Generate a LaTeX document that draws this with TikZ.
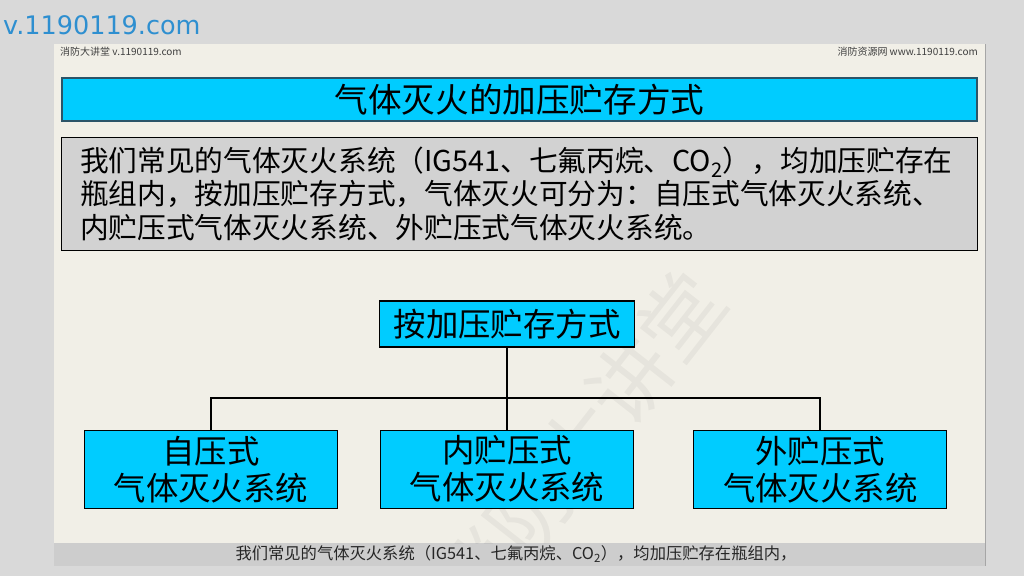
\documentclass[tikz,border=0pt]{standalone}
\usepackage{fontspec}
\setmainfont{Noto Sans CJK SC}
\newfontfamily\urlfont{DejaVu Sans}
\usetikzlibrary{positioning}
\definecolor{cPage}{HTML}{D9D9D9}
\definecolor{cSlide}{HTML}{F1EFE7}
\definecolor{cBar}{HTML}{CDCDCD}
\definecolor{cCyan}{HTML}{00CCFF}
\definecolor{cEdge}{HTML}{2B5468}
\definecolor{cNote}{HTML}{D2D2D2}
\definecolor{cLink}{HTML}{2E8FD0}

\begin{document}
\begin{tikzpicture}[
  x=1pt,y=-1pt,
  box/.style={draw=black,line width=1.2pt,fill=cCyan,inner sep=0pt,align=center,
    font=\fontsize{32.4}{37}\selectfont},
  kid/.style={box,minimum width=253pt,minimum height=78pt},
  link/.style={line width=1.5pt},
  tiny/.style={font=\fontsize{10}{12}\selectfont,text=black!75,inner sep=0pt}
]
\useasboundingbox (0,0) rectangle (1024,576);
\fill[cPage] (0,0) rectangle (1024,576);
\fill[cSlide] (54,44) rectangle (985,543);
\fill[cBar] (54,543) rectangle (985,566);
\draw[black!35] (985,44) -- (985,566);
% faint watermark, kept inside the slide
\begin{scope}
  \clip (54,44) rectangle (985,543);
  \node[rotate=52,opacity=0.045,font=\fontsize{82}{82}\selectfont] (mark) at (580,445) {消防大讲堂};
\end{scope}
\node[anchor=west,inner sep=0pt,text=cLink,font=\urlfont\fontsize{25.5}{28}\selectfont] (site) at (3,25) {v.1190119.com};
\node[tiny,anchor=west] (hl) at (60,52) {消防大讲堂 v.1190119.com};
\node[tiny,anchor=east] (hr) at (978,52) {消防资源网 www.1190119.com};
\node[draw=cEdge,line width=2pt,fill=cCyan,minimum width=915pt,minimum height=43pt,inner sep=0pt,
  font=\fontsize{33.6}{38}\selectfont] (title) at (519.5,99.5) {气体灭火的加压贮存方式};
\node[draw=black,line width=1pt,fill=cNote,minimum width=916pt,minimum height=113pt,
  inner xsep=19pt,inner ysep=0pt,text width=878pt,align=left,
  font=\fontsize{28.7}{33.5}\selectfont] (desc) at (519,193.5)
  {我们常见的气体灭火系统（IG541、七氟丙烷、CO\textsubscript{2}），均加压贮存在\\
   瓶组内，按加压贮存方式，气体灭火可分为：自压式气体灭火系统、\\
   内贮压式气体灭火系统、外贮压式气体灭火系统。};
\node[box,minimum width=255pt,minimum height=46pt] (root) at (507,324) {按加压贮存方式};
\node[kid,below=82pt of root] (inner) {内贮压式\\气体灭火系统};
\node[kid,left=42pt of inner] (self) {自压式\\气体灭火系统};
\node[kid,right=59pt of inner] (outer) {外贮压式\\气体灭火系统};
\coordinate (bus) at (0,398);
\draw[link] (root.south) -- (inner.north);
\draw[link] (self.north) |- (bus -| outer.north) -- (outer.north);
\node[inner sep=0pt,text=black!85,font=\fontsize{16.3}{18}\selectfont] (note) at (516,554)
  {我们常见的气体灭火系统（IG541、七氟丙烷、CO\textsubscript{2}），均加压贮存在瓶组内，};
\end{tikzpicture}
\end{document}
